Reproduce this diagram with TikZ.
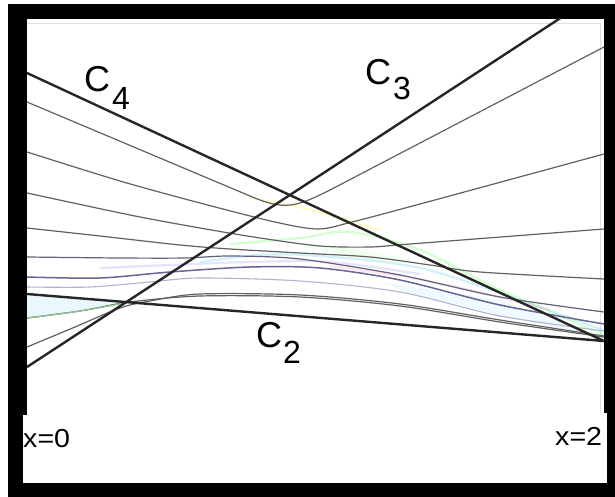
\documentclass[tikz,border=0pt]{standalone}
\usepackage{fontspec}
\setmainfont{Liberation Sans}
\begin{document}
\begin{tikzpicture}[x=1pt,y=-1pt,
  thickline/.style={line width=2.4pt, black!85},
  thincurve/.style={line width=1.2pt, black!62},
  faint/.style={line width=2.2pt, opacity=0.35},
  lbl/.style={font=\fontsize{36}{36}\selectfont, inner sep=0pt, anchor=base west},
  xlbl/.style={font=\fontsize{26}{26}\selectfont, inner sep=0pt, anchor=base west}]
\useasboundingbox (0,0) rectangle (615,497);
\fill[white] (0,0) rectangle (615,497);
% frame
\fill[black] (8,4) rectangle (615,497);
\fill[white] (27,19) rectangle (604,483);
\fill[white] (23,415) rectangle (27,483);
\fill[white] (604,413) rectangle (607,483);
\draw[black!12, line width=0.8pt] (27,23) -- (600,23) -- (600,413);
\begin{scope}
\clip (27,19) rectangle (604,483);
% faint tints
\fill[cyan!9] (27,296) -- (130,302) -- (80,311) -- (27,318) -- cycle;
\fill[cyan!6] (380,282) -- (500,300) -- (603,338) -- (520,320) -- (420,296) -- cycle;
\fill[green!6] (300,246) -- (350,247) -- (420,262) -- (380,262) -- cycle;
\draw[faint, cyan!50] plot[smooth, tension=0.55] coordinates {(200,262) (260,255) (320,256) (420,268) (520,300) (603,330)};
\draw[faint, green!50] plot[smooth, tension=0.55] coordinates {(230,244) (300,238) (350,232) (420,250) (500,290) (603,334)};
\draw[faint, magenta!30] plot[smooth, tension=0.55] coordinates {(330,266) (400,276) (470,290) (550,310)};
\draw[faint, yellow!60] plot[smooth, tension=0.55] coordinates {(250,198) (290,205) (330,215) (380,230)};
\draw[faint, blue!30] plot[smooth, tension=0.55] coordinates {(100,268) (170,265) (250,262) (330,262) (420,274)};
% thin solution curves
\draw[thincurve] (27,102) -- (250,196) .. controls (285,211) and (296,207) .. (330,190) -- (604,47);
\draw[thincurve] plot[smooth, tension=0.5] coordinates {(27,152) (120,181) (200,203) (275,222) (318,229) (352,222) (420,204) (604,154)};
\draw[thincurve] plot[smooth, tension=0.5] coordinates {(27,193) (130,215) (200,228) (260,238) (320,246) (370,247) (410,244) (604,229)};
\draw[thincurve] plot[smooth, tension=0.5] coordinates {(27,228) (100,236) (180,245) (230,249) (300,253) (370,257) (430,265) (480,272) (604,279)};
\draw[thincurve, blue!15!black!62] plot[smooth, tension=0.5] coordinates {(27,257) (120,258) (185,258) (230,256) (300,259) (400,275) (500,297) (604,312)};
\draw[line width=1.5pt, blue!30!black!60] plot[smooth, tension=0.5] coordinates {(27,277) (100,278) (170,272) (250,267) (320,268) (400,280) (500,305) (604,324)};
\draw[line width=1.1pt, blue!35!black!30] plot[smooth, tension=0.5] coordinates {(27,287) (90,287) (150,282) (200,278) (300,281) (400,292) (500,316) (604,331)};
\draw[thincurve] plot[smooth, tension=0.5] coordinates {(27,318) (80,311) (130,302) (200,296) (300,297) (400,306) (500,322) (604,337)};
\draw[line width=1.2pt, green!45!black!45] plot[smooth, tension=0.5] coordinates {(27,318) (80,311) (130,302)};
\draw[thincurve] plot[smooth, tension=0.5] coordinates {(27,347) (75,327) (120,308) (150,301) (200,294) (300,295) (400,304) (500,320) (604,336)};
% characteristic lines
\coordinate (c4a) at (27,73);  \coordinate (c4b) at (604,341);
\coordinate (c2a) at (27,294); \coordinate (c2b) at (604,341);
\coordinate (c3a) at (27,367); \coordinate (c3b) at (562,17);
\draw[thickline] (c4a) -- (c4b);
\draw[thickline] (c2a) -- (c2b);
\draw[thickline] (c3a) -- (c3b);
\end{scope}
% labels
\node[lbl] (l4) at (84,92) {C\hspace{2pt}\raisebox{-18pt}{\fontsize{32}{32}\selectfont 4}};
\node[lbl] (l3) at (365,85) {C\hspace{2pt}\raisebox{-15pt}{\fontsize{32}{32}\selectfont 3}};
\node[lbl] (l2) at (256,347) {C\hspace{1pt}\raisebox{-16pt}{\fontsize{32}{32}\selectfont 2}};
\node[xlbl] (x0) at (23,447) {\scalebox{1.1}[1]{x=0}};
\node[xlbl] (x2) at (555,445) {\scalebox{1.1}[1]{x=2}};
\end{tikzpicture}
\end{document}
